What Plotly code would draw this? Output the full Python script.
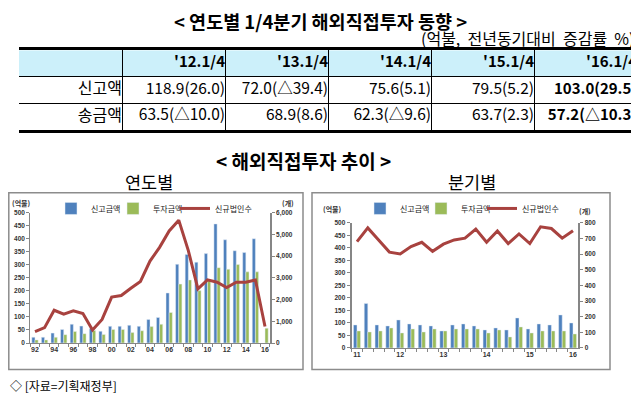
import plotly.graph_objects as go

# the page is shown in a 639x402 window; the browser's default 8px body margin
# pushes the figure right/down, so everything below is placed in window pixels
WIN_OFF = 8
W, H = 631, 394

# ---- table data (1/4 quarter, 억불 / yoy %) ----
tbl_header = ["'12.1/4", "'13.1/4", "'14.1/4", "'15.1/4", "'16.1/4"]
tbl_rows = ["신고액", "송금액"]
tbl_report = ["118.9(26.0)", "72.0(△39.4)", "75.6(5.1)", "79.5(5.2)", "103.0(29.5)"]
tbl_remit = ["63.5(△10.0)", "68.9(8.6)", "62.3(△9.6)", "63.7(2.3)", "57.2(△10.3)"]

# ---- yearly chart ----
years = ['92', '93', '94', '95', '96', '97', '98', '99', '00', '01', '02', '03', '04',
         '05', '06', '07', '08', '09', '10', '11', '12', '13', '14', '15', '16']
year_report = [22, 22, 38, 52, 72, 65, 55, 45, 64, 64, 68, 64, 90,
               98, 192, 302, 340, 310, 343, 457, 396, 354, 347, 400, None]
year_invest = [12, 12, 22, 32, 44, 36, 48, 33, 52, 52, 40, 47, 63,
               72, 117, 226, 242, 201, 242, 289, 283, 301, 273, 273, 57]
year_firms = [528, 709, 1508, 1327, 1478, 1357, 603, 1086, 2112, 2187, 2519, 2836, 3771,
              4404, 5158, 5656, 4253, 2489, 2909, 2800, 2550, 2800, 2800, 2900, 760]
year_ticks = ['92', '94', '96', '98', '00', '02', '04', '06', '08', '10', '12', '14', '16']

# ---- quarterly chart ----
quarters = ['11.1', '11.2', '11.3', '11.4', '12.1', '12.2', '12.3', '12.4',
            '13.1', '13.2', '13.3', '13.4', '14.1', '14.2', '14.3', '14.4',
            '15.1', '15.2', '15.3', '15.4', '16.1']
q_report = [92, 178, 92, 88, 112, 96, 92, 88, 68, 92, 96, 88, 72, 80, 72, 120, 76, 96, 92, 132, 100]
q_invest = [68, 64, 68, 80, 60, 76, 64, 76, 68, 76, 76, 76, 60, 72, 44, 84, 60, 68, 68, 68, 56]
q_firms = [680, 768, 690, 613, 601, 649, 676, 618, 664, 691, 702, 760, 676, 748, 668, 729,
           668, 775, 764, 702, 750]

BLUE = '#4F81BD'
GREEN = '#9BBB59'
RED = '#A8423F'
AXIS = '#868686'
KR = 'Noto Sans CJK KR'


def px(x):
    return max(x - WIN_OFF, 0) / W


def py(y):
    return 1 - (y - WIN_OFF) / H


fig = go.Figure()

# ---- table drawn on its own hidden cartesian grid: columns 0..6, rows 0..3 ----
cell_x, cell_y, cell_text, cell_size = [], [], [], []
for i, h in enumerate(tbl_header):
    cell_x.append(i + 2); cell_y.append(2.5); cell_text.append('<b>' + h + '</b>')
    cell_size.append(15)
for r, (name, vals) in enumerate(zip(tbl_rows, [tbl_report, tbl_remit])):
    yrow = 1.5 - r
    cell_x.append(1); cell_y.append(yrow); cell_text.append(name); cell_size.append(16)
    for i, v in enumerate(vals):
        cell_x.append(i + 2); cell_y.append(yrow)
        cell_text.append('<b>' + v + '</b>' if i == len(vals) - 1 else v)
        cell_size.append(15 if i == len(vals) - 1 else 15.5)

fig.add_trace(go.Scatter(x=cell_x, y=cell_y, text=cell_text, mode='text',
                         textposition='middle left', xaxis='x3', yaxis='y5',
                         textfont=dict(family=KR, size=cell_size, color='black'),
                         showlegend=False, hoverinfo='skip', cliponaxis=False))

# yearly (each legend entry sits in its own legend box so it can be placed freely)
fig.add_trace(go.Bar(x=years, y=year_report, name='신고금액', marker_color=BLUE,
                     xaxis='x', yaxis='y', legend='legend'))
fig.add_trace(go.Bar(x=years, y=year_invest, name='투자금액', marker_color=GREEN,
                     xaxis='x', yaxis='y', legend='legend2'))
fig.add_trace(go.Scatter(x=years, y=year_firms, name='신규법인수', mode='lines',
                         line=dict(color=RED, width=3), xaxis='x', yaxis='y2',
                         legend='legend3'))

# quarterly
fig.add_trace(go.Bar(x=quarters, y=q_report, name='신고금액', marker_color=BLUE,
                     xaxis='x2', yaxis='y3', legend='legend4'))
fig.add_trace(go.Bar(x=quarters, y=q_invest, name='투자금액', marker_color=GREEN,
                     xaxis='x2', yaxis='y3', legend='legend5'))
fig.add_trace(go.Scatter(x=quarters, y=q_firms, name='신규법인수', mode='lines',
                         line=dict(color=RED, width=3), xaxis='x2', yaxis='y4',
                         legend='legend6'))

tickfont = dict(family='Liberation Sans', size=6.5, color='#333333', weight='bold')
common_y = dict(showgrid=False, zeroline=False, showline=True, linecolor=AXIS,
                ticks='outside', ticklen=3, tickcolor=AXIS, tickfont=tickfont)
common_x = dict(type='category', showgrid=False, showline=True, linecolor=AXIS,
                ticks='outside', ticklen=3, tickcolor=AXIS, tickson='boundaries',
                tickangle=0, tickfont=dict(tickfont, size=7))
leg = dict(orientation='h', yanchor='middle', xanchor='left', y=py(208),
           bgcolor='rgba(0,0,0,0)', font=dict(family=KR, size=8, color='#222'),
           itemwidth=30)

fig.update_layout(
    width=W, height=H, margin=dict(l=0, r=0, t=0, b=0),
    paper_bgcolor='white', plot_bgcolor='rgba(0,0,0,0)',
    barmode='group', bargap=0.34, bargroupgap=0,
    xaxis=dict(common_x, domain=[px(30.2), px(269.8)], anchor='y',
               tickmode='array', tickvals=years,
               ticktext=[y if y in year_ticks else '' for y in years]),
    yaxis=dict(common_y, domain=[py(345), py(212.3)], range=[0, 500], dtick=50,
               anchor='x'),
    yaxis2=dict(common_y, overlaying='y', side='right', anchor='x', range=[0, 6000],
                dtick=1000, tickformat=',', linewidth=2),
    xaxis2=dict(common_x, domain=[px(351.6), px(578.4)], anchor='y3',
                tickmode='array', tickvals=quarters,
                ticktext=[q[:2] if q.endswith('.1') else '' for q in quarters]),
    yaxis3=dict(common_y, domain=[py(350), py(222.7)], range=[0, 500], dtick=50,
                anchor='x2', linewidth=2),
    yaxis4=dict(common_y, overlaying='y3', side='right', anchor='x2', range=[0, 800],
                dtick=100, linewidth=2),
    xaxis3=dict(domain=[px(19), px(637)], range=[0, 6], anchor='y5',
                tickvals=[1, 2, 3, 4, 5], showticklabels=False, ticks='',
                showgrid=True, gridcolor='black', gridwidth=1, zeroline=False,
                showline=True, mirror=True, linecolor='black', linewidth=2.5),
    yaxis5=dict(domain=[py(128), py(47)], range=[0, 3], anchor='x3',
                tickvals=[1, 2], showticklabels=False, ticks='',
                showgrid=True, gridcolor='black', gridwidth=1, zeroline=False,
                showline=False),
    legend=dict(leg, x=px(51)),
    legend2=dict(leg, x=px(113)),
    legend3=dict(leg, x=px(175)),
    legend4=dict(leg, x=px(360)),
    legend5=dict(leg, x=px(421)),
    legend6=dict(leg, x=px(482)),
    showlegend=True,
)

shapes = [
    # header row background
    dict(type='rect', xref='x3', yref='y5', x0=0, x1=6, y0=2, y1=3,
         fillcolor='#CCF0FA', line=dict(width=0), layer='below'),
    # chart frames
    dict(type='rect', xref='paper', yref='paper', x0=px(8.8), x1=px(303), y0=py(372), y1=py(192),
         line=dict(color='#8C8C8C', width=1.5)),
    dict(type='rect', xref='paper', yref='paper', x0=px(312), x1=px(610), y0=py(372), y1=py(192),
         line=dict(color='#8C8C8C', width=1.5)),
]
fig.update_layout(shapes=shapes)

small = dict(family=KR, size=7, color='#333333', weight='bold')
notes = [
    dict(text='<b>&lt; 연도별 1/4분기 해외직접투자 동향 &gt;</b>', x=px(320), y=py(17),
         font=dict(family=KR, size=18.5, color='black')),
    dict(text='(억불,&nbsp; 전년동기대비&nbsp; 증감률&nbsp; %)', x=px(636), y=py(34.5),
         xanchor='right', font=dict(family=KR, size=16, color='black')),
    dict(text='<b>&lt; 해외직접투자 추이 &gt;</b>', x=px(303), y=py(159),
         font=dict(family=KR, size=19, color='black')),
    dict(text='연도별', x=px(149), y=py(181), font=dict(family=KR, size=17.5, color='black')),
    dict(text='분기별', x=px(472), y=py(181), font=dict(family=KR, size=17.5, color='black')),
    dict(text='◇ [자료=기획재정부]', x=px(8), y=py(388), xanchor='left',
         font=dict(family=KR, size=12, color='black')),
    dict(text='(억불)', x=px(10), y=py(202), xanchor='left', font=small),
    dict(text='(개)', x=px(280), y=py(202), xanchor='left', font=small),
    dict(text='(억불)', x=px(321), y=py(209), xanchor='left', font=small),
    dict(text='(개)', x=px(577), y=py(211), xanchor='left', font=small),
]
for n in notes:
    n.setdefault('xanchor', 'center')
    fig.add_annotation(xref='paper', yref='paper', showarrow=False, yanchor='middle', **n)

fig.write_html("out.html")
